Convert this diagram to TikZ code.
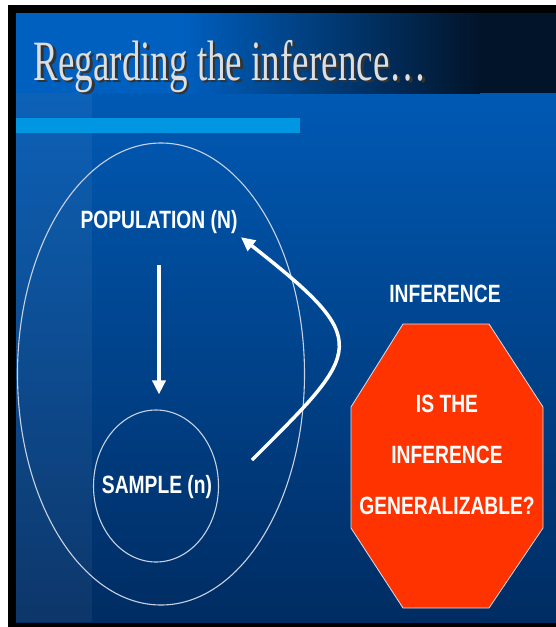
\documentclass[tikz,border=0pt]{standalone}
\usepackage{fontspec}
\usetikzlibrary{arrows.meta,shapes.geometric}
\newfontfamily\titlefont[FakeStretch=0.65]{Liberation Serif}
\newfontfamily\labelfont[FakeStretch=0.77]{Liberation Sans}
\definecolor{slidetop}{RGB}{0,96,192}
\definecolor{slidebottom}{RGB}{0,44,98}
\definecolor{titledark}{RGB}{2,20,42}
\definecolor{barblue}{RGB}{0,150,225}
\definecolor{stopred}{RGB}{255,51,0}
\definecolor{ringgray}{RGB}{200,210,228}
\definecolor{titlegray}{RGB}{222,222,222}

\begin{document}
\begin{tikzpicture}[x=1pt,y=-1pt,
  lbl/.style={text=white,font=\labelfont\bfseries\fontsize{25}{30}\selectfont},
  ring/.style={draw=ringgray,line width=1.1pt,ellipse,inner sep=0pt},
  flow/.style={white,line width=3.5pt,-{Triangle[length=14pt,width=13pt]}}]
\useasboundingbox (0,0) rectangle (556,627);

\fill[white] (0,0) rectangle (556,627);
\fill[black] (8,5) rectangle (556,627);
\shade[top color=slidetop,bottom color=slidebottom] (16,13) rectangle (556,622);
\fill[white,opacity=0.05] (16,93) rectangle (92,622);
\fill[slidetop] (16,13) rectangle (180,93);
\shade[left color=slidetop,right color=titledark] (180,13) rectangle (480,93);
\fill[titledark] (480,13) rectangle (556,93);
\fill[barblue] (16,118) rectangle (300,133);

\node[anchor=base west,text=black!80,font=\titlefont\fontsize{57}{60}\selectfont] (titleshadow) at (32.5,82.5) {Regarding the inference…};
\node[anchor=base west,text=titlegray,font=\titlefont\fontsize{57}{60}\selectfont] (title) at (30,80) {Regarding the inference…};

\node[ring,minimum width=287pt,minimum height=462pt] (popset) at (161,374) {};
\node[ring,minimum width=125pt,minimum height=152pt] (samp) at (156,486) {};
\node[lbl] (samplbl) at (157,487) {SAMPLE (n)};
\node[lbl] (pop) at (159,222) {POPULATION (N)};

\draw[flow,shorten <=43pt,shorten >=15pt] (pop.center) -- (pop.center |- samp.north);
\coordinate (backtail) at (252,460);
\draw[flow] (backtail) .. controls (363,349) and (374,342) .. (pop.south east);

\node[lbl] (inf) at (445,294) {INFERENCE};
\filldraw[fill=stopred,draw=ringgray!70,line width=0.8pt] (403,324) -- (489,324) -- (543,407) -- (543,528) -- (489,608) -- (403,608) -- (351,528) -- (351,407) -- cycle;
\node[lbl,align=center,font=\labelfont\bfseries\fontsize{25}{51}\selectfont] (question) at (447,455) {IS THE\\INFERENCE\\GENERALIZABLE?};
\end{tikzpicture}
\end{document}
